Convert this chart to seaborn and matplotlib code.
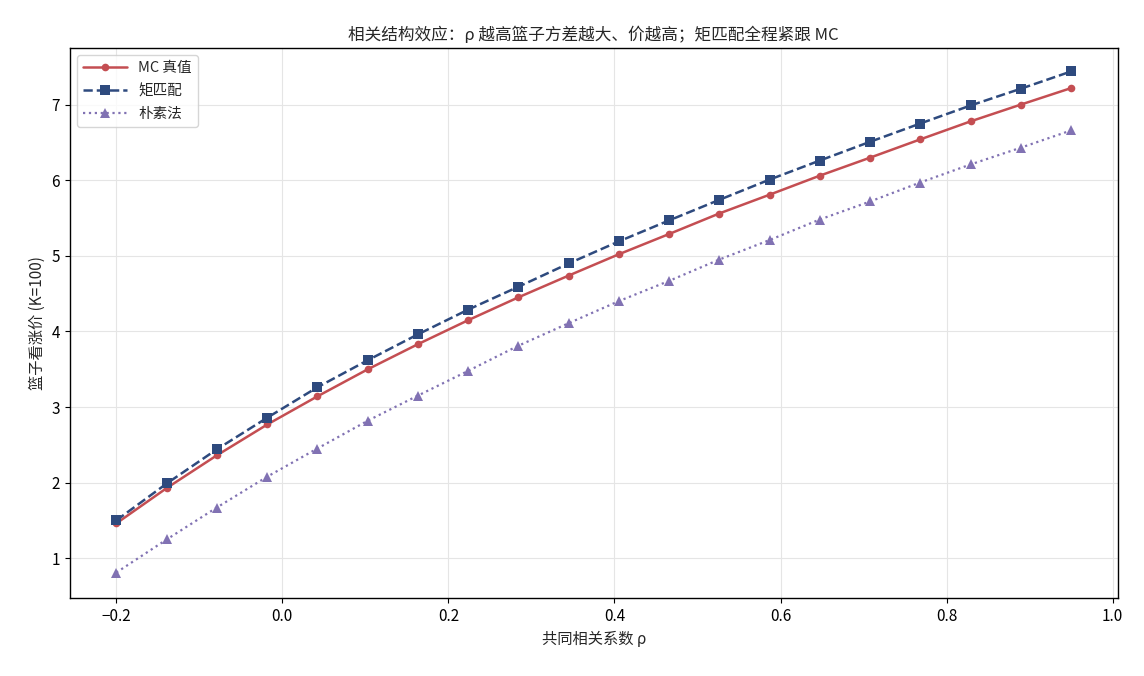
import numpy as np
import pandas as pd
import matplotlib
matplotlib.use("Agg")
import matplotlib.pyplot as plt
import seaborn as sns

rho = [-0.20, -0.139, -0.079, -0.018, 0.042, 0.103, 0.163, 0.224, 0.284, 0.345,
       0.405, 0.466, 0.526, 0.587, 0.647, 0.708, 0.768, 0.829, 0.889, 0.95]
mc_true = [1.46, 1.93, 2.36, 2.77, 3.14, 3.50, 3.83, 4.15, 4.45, 4.74,
           5.02, 5.29, 5.56, 5.81, 6.06, 6.30, 6.54, 6.78, 7.00, 7.22]
moment_match = [1.50, 1.99, 2.44, 2.86, 3.26, 3.62, 3.96, 4.29, 4.59, 4.90,
                5.19, 5.47, 5.74, 6.01, 6.26, 6.51, 6.75, 6.99, 7.21, 7.44]
naive = [0.81, 1.25, 1.67, 2.08, 2.45, 2.82, 3.15, 3.48, 3.81, 4.11,
         4.40, 4.67, 4.95, 5.21, 5.48, 5.72, 5.97, 6.21, 6.43, 6.66]

labels = ["MC 真值", "矩匹配", "朴素法"]
colors = ["#c44e52", "#2e4a7e", "#8172b3"]

sns.set_theme(style="ticks")
plt.rcParams['font.family'] = ['Noto Sans CJK SC', 'DejaVu Sans']
plt.rcParams['axes.unicode_minus'] = True

fig, ax = plt.subplots(figsize=(11.44, 6.76), dpi=100)

df = pd.DataFrame({"rho": rho, labels[0]: mc_true, labels[1]: moment_match, labels[2]: naive})

sns.lineplot(data=df, x="rho", y=labels[0], ax=ax, color=colors[0], marker="o",
             markersize=5.5, markeredgewidth=0, linewidth=1.8, linestyle="-", label=labels[0])
sns.lineplot(data=df, x="rho", y=labels[1], ax=ax, color=colors[1], marker="s",
             markersize=6.5, markeredgewidth=0, linewidth=1.8, linestyle="--", label=labels[1])
sns.lineplot(data=df, x="rho", y=labels[2], ax=ax, color=colors[2], marker="^",
             markersize=6.5, markeredgewidth=0, linewidth=1.6, linestyle=":", label=labels[2])

ax.grid(True, color="#e5e5e5", linewidth=0.8)
ax.set_axisbelow(True)
for s in ax.spines.values():
    s.set_color("black")
    s.set_linewidth(1.0)

ax.set_xlim(-0.256, 1.006)
ax.set_ylim(0.47, 7.75)
ax.set_xticks([-0.2, 0.0, 0.2, 0.4, 0.6, 0.8, 1.0])
ax.set_yticks([1, 2, 3, 4, 5, 6, 7])
ax.tick_params(labelsize=11, colors="black", length=3.5, width=0.8)

ax.set_xlabel("共同相关系数 ρ", fontsize=11)
ax.set_ylabel("篮子看涨价 (K=100)", fontsize=11)
ax.set_title("相关结构效应：ρ 越高篮子方差越大、价越高；矩匹配全程紧跟 MC", fontsize=12)

leg = ax.legend(loc="upper left", fontsize=10.5, frameon=True, handlelength=3, labelspacing=0.6)
leg.get_frame().set_edgecolor("#cccccc")

fig.subplots_adjust(left=0.061, right=0.977, top=0.929, bottom=0.115)
fig.savefig("out.png", dpi=100)
